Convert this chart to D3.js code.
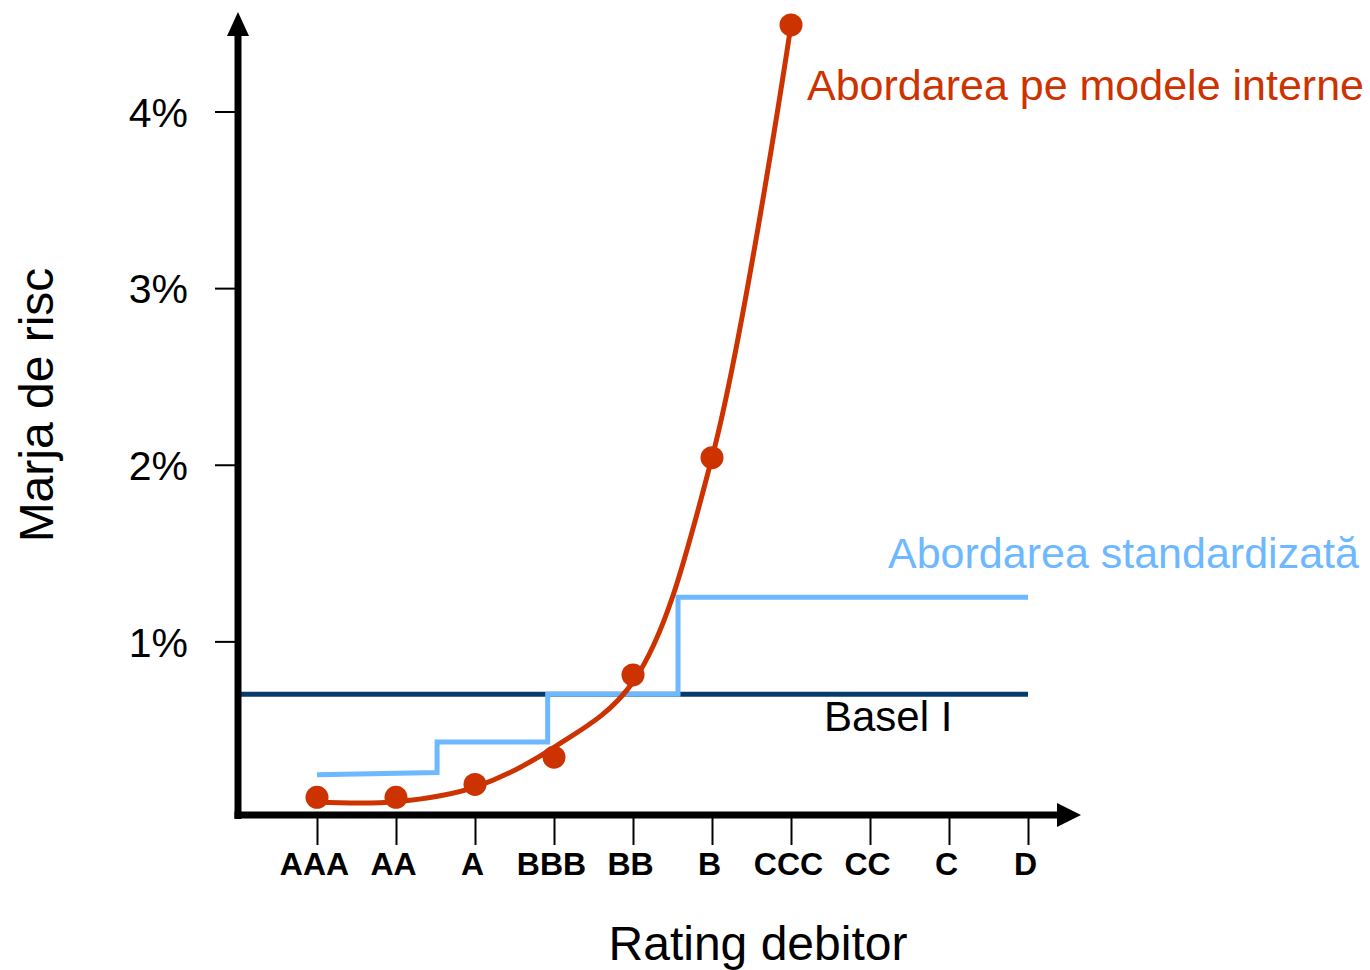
<!DOCTYPE html>
<html>
<head>
    <meta charset="utf-8">
    <script src="https://d3js.org/d3.v7.min.js"></script>
    <style>
      body { margin: 0; background: #fff; }
      text { font-family: "Liberation Sans", Arial, sans-serif; }
    </style>
</head>
<body>
    <script>
      // ratings on the x axis
      const ratings = ['AAA', 'AA', 'A', 'BBB', 'BB', 'B', 'CCC', 'CC', 'C', 'D'];
      const yTicks = [1, 2, 3, 4];

      // internal models approach: observed points (in %)
      const irbPoints = [0.117, 0.117, 0.19, 0.344, 0.81, 2.04, 4.49];
      // fitted curve through them (in %)
      const irbCurve = [0.09, 0.092, 0.175, 0.40, 0.77, 2.04, 4.49];

      // standardised approach steps: [rating index, %]
      const stdSteps = [[0, 0.245], [1.52, 0.258], [1.52, 0.43], [2.92, 0.43],
                        [2.92, 0.70], [4.57, 0.70], [4.57, 1.25], [9, 1.25]];

      const baselI = 0.70;

      const width = 1370, height = 970;
      const red = '#cc3300', blue = '#6db8ff', navy = '#073b6c';

      const svg = d3.select('body').append('svg')
          .attr('width', width)
          .attr('height', height);

      // x: rating index, -1 is where the y axis sits
      const x = d3.scaleLinear().domain([-1, ratings.length - 1]).range([238, 1028]);
      const y = d3.scaleLinear().domain([0, 4]).range([818, 111.5]);
      const axisY = 815;

      // Basel I flat line
      svg.append('line')
          .attr('x1', x(-1)).attr('x2', x(9))
          .attr('y1', y(baselI)).attr('y2', y(baselI))
          .attr('stroke', navy).attr('stroke-width', 5);

      // standardised steps
      svg.append('path')
          .datum(stdSteps)
          .attr('d', d3.line().x(d => x(d[0])).y(d => y(d[1])))
          .attr('fill', 'none')
          .attr('stroke', blue)
          .attr('stroke-width', 5)
          .attr('stroke-linejoin', 'miter');

      // internal models curve
      svg.append('path')
          .datum(irbCurve)
          .attr('d', d3.line().x((d, i) => x(i)).y(d => y(d)).curve(d3.curveCatmullRom.alpha(0.5)))
          .attr('fill', 'none')
          .attr('stroke', red)
          .attr('stroke-width', 5);

      svg.selectAll('.pt')
          .data(irbPoints)
          .enter().append('circle')
          .attr('class', 'pt')
          .attr('cx', (d, i) => x(i))
          .attr('cy', d => y(d))
          .attr('r', 11.5)
          .attr('fill', red);

      // axes
      const xAxis = svg.append('g')
          .attr('transform', `translate(0,${axisY})`)
          .call(d3.axisBottom(x)
              .tickValues(d3.range(ratings.length))
              .tickFormat(i => ratings[i])
              .tickSize(30)
              .tickPadding(10));
      xAxis.select('.domain').remove();
      xAxis.selectAll('.tick line').attr('stroke', '#000').attr('stroke-width', 2);
      xAxis.selectAll('.tick text')
          .attr('y', 60)
          .attr('dy', 0)
          .attr('dx', -3)
          .attr('font-size', 32)
          .attr('font-weight', 'bold')
          .attr('fill', '#000');

      const yAxis = svg.append('g')
          .attr('transform', `translate(${x(-1)},0)`)
          .call(d3.axisLeft(y)
              .tickValues(yTicks)
              .tickFormat(d => d + '%')
              .tickSize(23)
              .tickPadding(27));
      yAxis.select('.domain').remove();
      yAxis.selectAll('.tick line').attr('stroke', '#000').attr('stroke-width', 2);
      yAxis.selectAll('.tick text')
          .attr('font-size', 41)
          .attr('dy', '0.36em')
          .attr('fill', '#000');

      // thick axis lines with arrow heads
      svg.append('line')
          .attr('x1', x(-1)).attr('x2', x(-1))
          .attr('y1', axisY + 4).attr('y2', 34)
          .attr('stroke', '#000').attr('stroke-width', 7);
      svg.append('path')
          .attr('d', `M${x(-1)},12 L${x(-1) - 11},36 L${x(-1) + 11},36 Z`)
          .attr('fill', '#000');

      svg.append('line')
          .attr('x1', x(-1) - 3.5).attr('x2', 1060)
          .attr('y1', axisY).attr('y2', axisY)
          .attr('stroke', '#000').attr('stroke-width', 7);
      svg.append('path')
          .attr('d', `M1081,${axisY} L1057,${axisY - 12} L1057,${axisY + 12} Z`)
          .attr('fill', '#000');

      // axis titles
      svg.append('text')
          .attr('transform', 'translate(53,405) rotate(-90)')
          .attr('text-anchor', 'middle')
          .attr('font-size', 48)
          .text('Marja de risc');

      svg.append('text')
          .attr('x', 758).attr('y', 960)
          .attr('text-anchor', 'middle')
          .attr('font-size', 48)
          .text('Rating debitor');

      // series labels
      svg.append('text')
          .attr('x', 807).attr('y', 100)
          .attr('font-size', 43)
          .attr('fill', red)
          .text('Abordarea pe modele interne');

      svg.append('text')
          .attr('x', 888).attr('y', 568)
          .attr('font-size', 43)
          .attr('fill', blue)
          .text('Abordarea standardizată');

      svg.append('text')
          .attr('x', 824).attr('y', 731)
          .attr('font-size', 42)
          .attr('fill', '#000')
          .text('Basel I');
    </script>
</body>
</html>
